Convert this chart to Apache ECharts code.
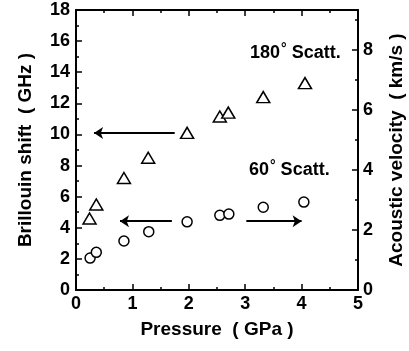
<!DOCTYPE html>
<html>
<head>
<meta charset="utf-8">
<script src="https://cdn.jsdelivr.net/npm/echarts@6/dist/echarts.min.js"></script>
<style>
  html, body { margin: 0; padding: 0; background: #fff; }
  #chart { width: 409px; height: 351px; }
</style>
</head>
<body>
<div id="chart"></div>
<script>
// 180 deg scattering (triangles)
const pressure180 = [0.24, 0.36, 0.85, 1.28, 1.97, 2.55, 2.70, 3.32, 4.06];
const shift180 = [4.6, 5.5, 7.2, 8.5, 10.1, 11.15, 11.4, 12.4, 13.3];
// 60 deg scattering (circles)
const pressure60 = [0.25, 0.36, 0.85, 1.29, 1.97, 2.55, 2.71, 3.32, 4.04];
const shift60 = [2.05, 2.42, 3.15, 3.75, 4.38, 4.8, 4.88, 5.32, 5.65];
// arrows: [fromX, fromY, toX, toY]
const arrows = [
  [1.75, 10.1, 0.32, 10.1],
  [1.70, 4.42, 0.78, 4.42],
  [3.02, 4.42, 4.0, 4.42],
];

const font = 'Liberation Sans, Arial, sans-serif';
const black = '#000';

const chart = echarts.init(document.getElementById('chart'));

const axisCommon = {
  axisLine: { show: true, onZero: false, lineStyle: { color: black, width: 2 } },
  axisTick: { show: true, inside: true, length: 6, lineStyle: { color: black, width: 1.5 } },
  minorTick: { show: true, splitNumber: 2, length: 3, lineStyle: { color: black, width: 1.5 } },
  splitLine: { show: false },
  axisLabel: { color: black, fontFamily: font, fontWeight: 'bold', fontSize: 18 },
  nameTextStyle: { color: black, fontFamily: font, fontWeight: 'bold', fontSize: 19 },
};

chart.setOption({
  animation: false,
  grid: { left: 76, right: 51, top: 10, bottom: 61, outerBoundsMode: 'none', containLabel: false },
  xAxis: [
    {
      ...axisCommon,
      type: 'value', min: 0, max: 5, interval: 1,
      name: 'Pressure  ( GPa )', nameLocation: 'middle', nameGap: 30,
      axisLabel: { ...axisCommon.axisLabel, margin: 5 },
    },
    {
      ...axisCommon,
      type: 'value', min: 0, max: 5, interval: 1, position: 'top',
      axisLabel: { show: false },
    },
  ],
  yAxis: [
    {
      ...axisCommon,
      type: 'value', min: 0, max: 18, interval: 2,
      name: 'Brillouin shift  ( GHz )', nameLocation: 'middle', nameGap: 41,
      axisLabel: { ...axisCommon.axisLabel, margin: 6 },
    },
    {
      ...axisCommon,
      type: 'value', min: 0, max: 9.33, interval: 2, position: 'right',
      name: 'Acoustic velocity  ( km/s )', nameLocation: 'middle', nameGap: 29,
      axisLabel: { ...axisCommon.axisLabel, margin: 5, showMaxLabel: false },
    },
  ],
  series: [
    {
      type: 'scatter',
      data: pressure180.map((p, i) => [p, shift180[i]]),
      symbol: 'triangle',
      symbolSize: [13, 11],
      itemStyle: { color: '#fff', borderColor: black, borderWidth: 1.5, opacity: 1 },
      markLine: {
        silent: true,
        symbol: ['none', 'arrow'],
        symbolSize: 9,
        label: { show: false },
        lineStyle: { color: black, width: 2, type: 'solid' },
        data: arrows.map(a => [{ coord: [a[0], a[1]] }, { coord: [a[2], a[3]] }]),
      },
    },
    {
      type: 'scatter',
      data: pressure60.map((p, i) => [p, shift60[i]]),
      symbol: 'circle',
      symbolSize: 10,
      itemStyle: { color: '#fff', borderColor: black, borderWidth: 1.5, opacity: 1 },
    },
  ],
  graphic: [
    {
      type: 'text', left: 250, top: 42,
      style: {
        text: '{n|180}{d|°}{n| Scatt.}',
        rich: {
          n: { fontFamily: font, fontWeight: 'bold', fontSize: 18, fill: black },
          d: { fontFamily: font, fontWeight: 'bold', fontSize: 14, fill: black, padding: [0, 0, 8, 1] },
        },
      },
    },
    {
      type: 'text', left: 249, top: 159,
      style: {
        text: '{n|60}{d|°}{n| Scatt.}',
        rich: {
          n: { fontFamily: font, fontWeight: 'bold', fontSize: 18, fill: black },
          d: { fontFamily: font, fontWeight: 'bold', fontSize: 14, fill: black, padding: [0, 0, 8, 1] },
        },
      },
    },
  ],
});
</script>
</body>
</html>
